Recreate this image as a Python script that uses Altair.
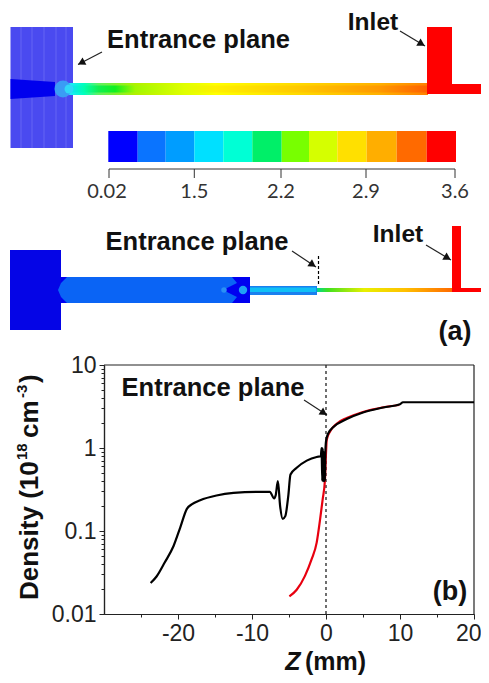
import math
import altair as alt
import pandas as pd

# ---- density curves (b)
black_z = [-23.7,-22.9,-21.8,-20.6,-19.7,-18.8,-18.15,-17.0,-14.8,-12.5,-9.4,-7.6,-7.0,-6.8,-6.5,-6.2,-5.85,-5.5,-5.1,-4.8,-4.0,-2.6,-1.26,-0.7,
           -0.6,-0.5,-0.45,-0.35,-0.3,-0.25,-0.2,-0.15,-0.1,0.0,0.3,1.0,2.8,5.0,7.75,10.0,10.4,20.0]
black_n = [0.0236,0.0283,0.0417,0.066,0.11,0.185,0.209,0.235,0.268,0.288,0.296,0.296,0.247,0.27,0.398,0.2,0.14,0.151,0.263,0.479,0.575,0.705,0.78,0.794,
           1.0,0.4,1.0,0.4,0.9,0.4,0.85,0.4,0.8,1.2,1.5,1.79,2.23,2.68,3.08,3.37,3.56,3.56]
red_z = [-4.95,-3.96,-2.84,-1.94,-1.26,-0.8,-0.45,-0.14,0.0,0.1,0.55,1.44,2.8,5.0,7.75,9.9]
red_n = [0.0163,0.0196,0.0288,0.0457,0.0724,0.138,0.24,0.417,0.87,1.26,1.58,1.96,2.3,2.72,3.1,3.3]

x_major = [-20,-10,0,10,20]
x_minor = [-25,-15,-5,5,15]
y_major = [0.01,0.1,1,10]
y_minor = [0.02,0.03,0.04,0.05,0.06,0.07,0.08,0.09,0.2,0.3,0.4,0.5,0.6,0.7,0.8,0.9,2,3,4,5,6,7,8,9]

# ---- colour key (a)
key_edges = [108.3,137.7,165.7,194.3,223.3,252.3,281.7,309,337.3,366.7,396.7,426.7,456]
key_colors = ["#0000ff","#0a74ff","#009dff","#00e0ff","#00ffd5","#00ef68","#78ff00","#d5ff00","#ffe000","#ffae00","#ff6a00","#ff0000"]
key_ticks = [109,194.3,281,366,455]
key_labels = ["0.02","1.5","2.2","2.9","3.6"]

# ---- schematic rectangles: x0, x1, y0, y1, colour
top_rects = [(10.5,73,27,148,"#4a4af0"),(427,452,27,94,"#ff0000"),(427,488,84,94,"#ff0000")]
mid_rects = [(10,61,250,330,"#0505e6"),(61,250,277,303,"#0000f0"),(250,317,286,295,"#1a80ef"),
             (250,316,287.5,292,"#10c0f5"),(452,461,226,291,"#ff0000"),(452,489,288,292,"#ff0000")]
mesh_x = [21,32,44,56,66]
top_wedge_x = [10.5,55]
top_wedge_y0 = [79,82]
top_wedge_y1 = [99,96]
mid_core_y = [277,283,290,297,303]
mid_core_x0 = [67,61,58,61,67]
mid_core_x1 = [232,237,223,237,232]
circles = [(63,89,"#3a9cf5",290),(69,89,"#30d8f8",80),(224,290,"#2a90f5",30),(243,290,"#20a0f5",70)]
grad_stops = [(0,"#20c8ff"),(0.02,"#20e8ff"),(0.06,"#00ffc0"),(0.10,"#60f060"),(0.145,"#80ee30"),(0.2,"#b0f000"),(0.335,"#e0ff00"),(0.42,"#ffff00"),(0.65,"#ffd800"),(0.87,"#ffb000"),(1,"#ff8000")]
core_stops = [(0,"#20c8ff"),(0.02,"#10e0ff"),(0.06,"#00ffb0"),(0.10,"#10f050"),(0.145,"#10f020"),(0.2,"#a0f800"),(0.335,"#e0ff00"),(0.42,"#fff000"),(0.65,"#ffc800"),(0.87,"#ff9800"),(1,"#ff6000")]
mid_stops = [(0,"#00d890"),(0.08,"#40e020"),(0.35,"#e8f000"),(0.65,"#ffc000"),(1,"#ff6a00")]

# ---- arrows: x from, y from, x to, y to
arrows = [(102,52,78,64.5),(400,31,425,46),(292,251,316,267),(426,245,451,260),(304,400,327,415)]

W, H = 473, 667
PX = alt.Scale(domain=[8,8+W], range=[0,W])
PY = alt.Scale(domain=[8,8+H], range=[0,H])
SX = alt.Scale(domain=[-30,20], range=[96,466])
SY = alt.Scale(type="log", domain=[0.01,10], range=[606,357])

def px(f): return alt.X(f, scale=PX, axis=None)
def py(f): return alt.Y(f, scale=PY, axis=None)

def rects(items):
    df = pd.DataFrame(items, columns=["x0","x1","y0","y1","c"])
    return alt.Chart(df).mark_rect().encode(x=px("x0:Q"), x2="x1:Q", y=py("y0:Q"), y2="y1:Q",
                                            color=alt.Color("c:N", scale=None))

def gradient(x0,x1,y0,y1,stops):
    g = alt.LinearGradient(gradient="linear", x1=0, x2=1, y1=0, y2=0,
                           stops=[alt.GradientStop(offset=o, color=c) for o,c in stops])
    df = pd.DataFrame([dict(x0=x0,x1=x1,y0=y0,y1=y1)])
    return alt.Chart(df).mark_rect(color=g).encode(x=px("x0:Q"), x2="x1:Q", y=py("y0:Q"), y2="y1:Q")

def band(xs,y0s,y1s,color):
    df = pd.DataFrame(dict(x=xs,y0=y0s,y1=y1s))
    return alt.Chart(df).mark_area(color=color, interpolate="linear").encode(x=px("x:Q"), y=py("y0:Q"), y2="y1:Q")

def hband(ys,x0s,x1s,color):
    df = pd.DataFrame(dict(y=ys,x0=x0s,x1=x1s))
    return alt.Chart(df).mark_area(color=color, orient="horizontal", interpolate="linear").encode(y=py("y:Q"), x=px("x0:Q"), x2="x1:Q")

def txt(label,x,y,size,weight="bold",font="Liberation Sans",color="#111111",style="normal",align="center",angle=0,baseline="middle"):
    df = pd.DataFrame([dict(x=x,y=y,t=label)])
    return alt.Chart(df).mark_text(fontSize=size,fontWeight=weight,font=font,color=color,fontStyle=style,
                                   align=align,baseline=baseline,angle=angle).encode(x=px("x:Q"),y=py("y:Q"),text="t:N")

def seg(x0,y0,x1,y1,color="black",width=1.2,dash=None):
    df = pd.DataFrame([dict(a=x0,b=y0,c=x1,d=y1)])
    kw = dict(strokeDash=dash) if dash else {}
    return alt.Chart(df).mark_rule(color=color,strokeWidth=width,**kw).encode(x=px("a:Q"),y=py("b:Q"),x2="c:Q",y2="d:Q")

layers = []
# top schematic
layers.append(rects(top_rects))
for m in mesh_x:
    layers.append(seg(m,27,m,148,color="#6464f4",width=1))
layers.append(band(top_wedge_x,top_wedge_y0,top_wedge_y1,"#0000ee"))
layers.append(gradient(62,428,83,95,grad_stops))
layers.append(gradient(62,428,85.5,92.5,core_stops))
layers.append(rects(top_rects[1:]))
# middle schematic
layers.append(rects(mid_rects[:4]))
layers.append(hband(mid_core_y,mid_core_x0,mid_core_x1,"#0a64f5"))
layers.append(gradient(317,452,288,292,mid_stops))
layers.append(rects(mid_rects[4:]))
cdf = pd.DataFrame(circles,columns=["x","y","c","s"])
layers.append(alt.Chart(cdf).mark_circle(opacity=1).encode(x=px("x:Q"),y=py("y:Q"),
              color=alt.Color("c:N",scale=None),size=alt.Size("s:Q",scale=None)))
layers.append(seg(318.5,256,318.5,285,width=1.2,dash=[3,2]))
# colour key
kdf = pd.DataFrame(dict(x0=key_edges[:-1],x1=key_edges[1:],c=key_colors,y0=131,y1=162))
layers.append(alt.Chart(kdf).mark_rect().encode(x=px("x0:Q"),x2="x1:Q",y=py("y0:Q"),y2="y1:Q",color=alt.Color("c:N",scale=None)))
layers.append(seg(key_ticks[0],169,key_ticks[-1],169,color="#333333",width=1))
for t,l in zip(key_ticks,key_labels):
    layers.append(seg(t,169,t,178,color="#333333",width=1))
    layers.append(txt(l,t+(-2 if l=="0.02" else 0),192,20,weight="normal",font="Lato",color="#333333"))

# plot (b)
curve = lambda z,n,c: alt.Chart(pd.DataFrame(dict(z=z,n=n))).mark_line(color=c,strokeWidth=2.2,interpolate="monotone").encode(
    x=alt.X("z:Q",scale=SX,axis=None),y=alt.Y("n:Q",scale=SY,axis=None))
frame = pd.DataFrame(dict(a=[-30,20],c=[20,20],b=[10,10],d=[10,0.01]))
layers.append(alt.Chart(frame).mark_rule(color="#222222",strokeWidth=1.2).encode(
    x=alt.X("a:Q",scale=SX,axis=None),x2="c:Q",y=alt.Y("b:Q",scale=SY,axis=None),y2="d:Q"))
dash = pd.DataFrame(dict(z=[0],lo=[0.01],hi=[10]))
layers.append(alt.Chart(dash).mark_rule(color="#222222",strokeWidth=1.3,strokeDash=[3,3]).encode(
    x=alt.X("z:Q",scale=SX,axis=None),y=alt.Y("lo:Q",scale=SY,axis=None),y2="hi:Q"))
layers.append(curve(red_z,red_n,"#e8000f"))
layers.append(curve(black_z,black_n,"#000000"))

common = dict(domainColor="#222222",domainWidth=1.2,tickColor="#222222",grid=False,
              labelFont="Liberation Sans",labelColor="#222222")
xaxis = alt.Axis(values=x_major,orient="bottom",offset=606-H,tickSize=5,labelFontSize=23,labelPadding=3,
                 labelExpr="replace(datum.label,'−','-')",format="d",title=None,labelOverlap=False,
                 labelFlush=True,labelFlushOffset=7,**common)
xaxis2 = alt.Axis(values=x_minor,orient="bottom",offset=606-H,tickSize=3,labels=False,title=None,**common)
yaxis = alt.Axis(values=y_major,orient="left",offset=-96,tickSize=5,labelFontSize=23,labelPadding=3,format="~g",
                 labelOverlap=False,title=None,**common)
yaxis2 = alt.Axis(values=y_minor,orient="left",offset=-96,tickSize=3,labels=False,title=None,**common)
ax = pd.DataFrame(dict(z=[0],n=[1]))
layers.append(alt.Chart(ax).mark_point(opacity=0).encode(
    x=alt.X("z:Q",scale=SX,axis=xaxis),y=alt.Y("n:Q",scale=SY,axis=yaxis)))
layers.append(alt.Chart(ax).mark_point(opacity=0).encode(
    x=alt.X("z:Q",scale=SX,axis=xaxis2),y=alt.Y("n:Q",scale=SY,axis=yaxis2)))

# arrows
for a,b,c,d in arrows:
    k = 0.82
    layers.append(seg(a,b,c,d,color="#222222",width=1.2))
    ang = math.degrees(math.atan2(c-a,-(d-b)))%360
    head = pd.DataFrame([dict(x=a+(c-a)*k,y=b+(d-b)*k,ang=ang)])
    layers.append(alt.Chart(head).mark_point(shape="triangle",filled=True,color="#111111",size=70,opacity=1).encode(
        x=px("x:Q"),y=py("y:Q"),angle=alt.Angle("ang:Q",scale=None)))

# labels
ytitle = dict(align="left",angle=270,baseline="alphabetic")
layers += [
    txt("Entrance plane",198.5,40,25.5),
    txt("Inlet",373,23,24.5),
    txt("Entrance plane",197,242,25.5),
    txt("Inlet",398,235,24.5),
    txt("Entrance plane",213,388,25.5),
    txt("(a)",455,332,27),
    txt("(b)",450,592,27),
    txt("Z",293,662,25,style="italic"),
    txt("(mm)",305,662,25,align="left"),
    txt("Density (10",38,600,26,**ytitle),
    txt("18",27,460,15,**ytitle),
    txt("cm",38,438,26,**ytitle),
    txt("-3",27,398,15,**ytitle),
    txt(")",38,383,26,**ytitle),
]

chart = alt.layer(*layers).resolve_scale(
    x="independent",y="independent",color="independent").properties(
    width=W,height=H,padding=0,autosize=alt.AutoSizeParams(type="none")).configure_view(stroke=None)

chart.save("out.html", embed_options={"renderer": "svg", "actions": False})
